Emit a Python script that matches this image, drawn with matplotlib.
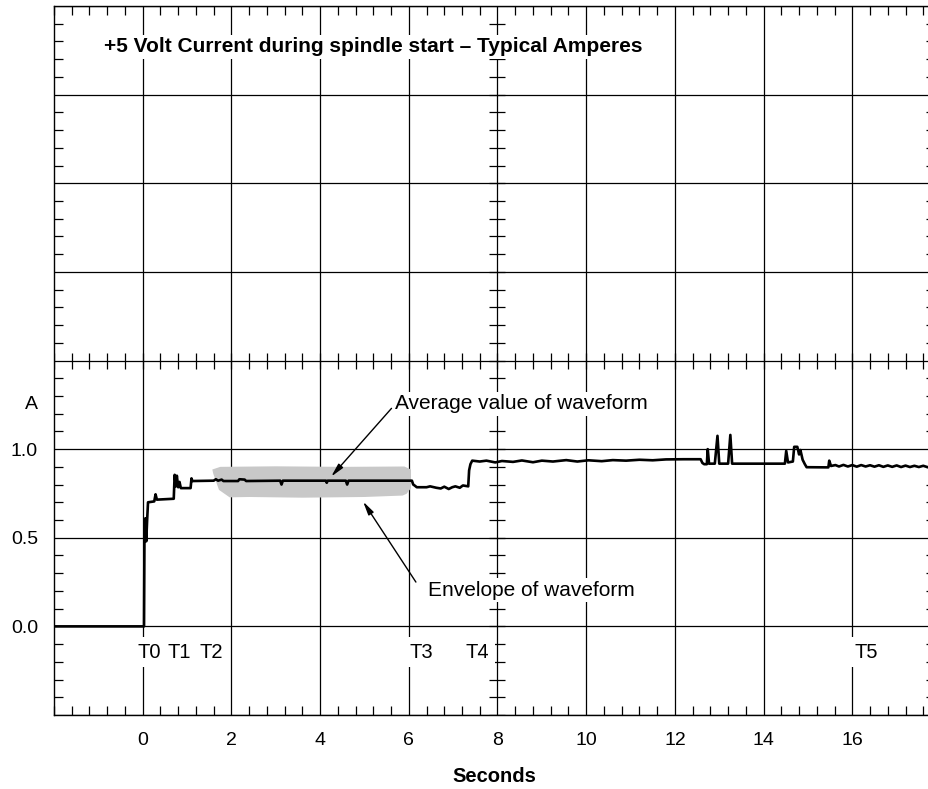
import numpy as np
import matplotlib.pyplot as plt
from matplotlib.ticker import MultipleLocator

plt.rcParams['font.family'] = ['Liberation Sans', 'DejaVu Sans']

# +5 V current trace (seconds, amperes)
wave_t = [-2.0, 0.03, 0.04, 0.06, 0.08, 0.10, 0.12, 0.26, 0.29, 0.32,
          0.70, 0.72, 0.75, 0.77, 0.80, 0.83, 0.86, 1.08, 1.10, 1.12,
          1.60, 1.65, 1.70, 1.78, 1.82, 2.15, 2.18, 2.30, 2.33, 3.10,
          3.13, 3.16, 4.13, 4.15, 4.17, 4.58, 4.61, 4.64, 6.07, 6.10,
          6.13, 6.18, 6.40, 6.48, 6.62, 6.72, 6.80, 6.90, 6.98, 7.05,
          7.15, 7.22, 7.34, 7.36, 7.39, 7.43, 7.60, 7.75, 7.95, 8.10,
          8.35, 8.55, 8.80, 9.00, 9.25, 9.55, 9.80, 10.05, 10.35, 10.60,
          10.90, 11.20, 11.50, 11.80, 12.20, 12.58, 12.62, 12.66, 12.72, 12.74,
          12.77, 12.90, 12.96, 13.00, 13.20, 13.25, 13.29, 14.48, 14.51, 14.55,
          14.66, 14.69, 14.76, 14.80, 14.83, 14.88, 14.93, 14.97, 15.46, 15.48,
          15.52, 15.62, 15.70, 15.80, 15.90, 16.00, 16.10, 16.20, 16.30, 16.40,
          16.50, 16.60, 16.70, 16.80, 16.90, 17.00, 17.10, 17.20, 17.30, 17.40,
          17.50, 17.60, 17.70, 17.86]
wave_a = [0.0, 0.0, 0.52, 0.61, 0.48, 0.60, 0.70, 0.705, 0.745, 0.715,
          0.72, 0.855, 0.79, 0.85, 0.785, 0.815, 0.78, 0.78, 0.835, 0.82,
          0.822, 0.83, 0.822, 0.828, 0.82, 0.82, 0.83, 0.828, 0.82, 0.822,
          0.80, 0.822, 0.822, 0.81, 0.822, 0.822, 0.80, 0.822, 0.822, 0.80,
          0.795, 0.785, 0.785, 0.79, 0.782, 0.778, 0.788, 0.775, 0.785, 0.79,
          0.782, 0.795, 0.79, 0.88, 0.915, 0.935, 0.930, 0.935, 0.925, 0.933,
          0.928, 0.936, 0.926, 0.935, 0.930, 0.938, 0.930, 0.937, 0.932, 0.938,
          0.935, 0.940, 0.937, 0.942, 0.943, 0.943, 0.922, 0.915, 0.915, 1.0,
          0.918, 0.918, 1.075, 0.918, 0.918, 1.08, 0.918, 0.918, 0.99, 0.925,
          0.93, 1.013, 1.013, 0.97, 0.995, 0.94, 0.915, 0.898, 0.897, 0.935,
          0.905, 0.91, 0.902, 0.911, 0.902, 0.910, 0.901, 0.910, 0.902, 0.909,
          0.901, 0.909, 0.900, 0.908, 0.900, 0.908, 0.899, 0.907, 0.899, 0.906,
          0.899, 0.906, 0.898, 0.902]

# hand-drawn grey envelope outline
env_t = [1.57, 1.75, 3.0, 4.5, 5.9, 6.05, 6.05, 5.95, 5.86, 5.0, 3.6, 2.4, 1.96, 1.72, 1.59]
env_a = [0.885, 0.900, 0.903, 0.900, 0.902, 0.885, 0.78, 0.748, 0.738, 0.730, 0.726, 0.730, 0.728, 0.77, 0.862]

x_ticks = [0, 2, 4, 6, 8, 10, 12, 14, 16]
y_ticks = [-0.5, 0.0, 0.5, 1.0, 1.5, 2.0, 2.5, 3.0, 3.5]
y_labels = ['', '0.0', '0.5', '1.0', '', '', '', '', '']

events = ['T0', 'T1', 'T2', 'T3', 'T4', 'T5']
event_t = [-0.11, 0.56, 1.28, 6.02, 7.28, 16.05]

fig = plt.figure(figsize=(9.29, 7.89), dpi=100)
ax = fig.add_axes([54 / 929, 1 - 715 / 789, (935 - 54) / 929, (715 - 6) / 789])
ax.set_xlim(-2, -2 + (935 - 54) / 44.35)
ax.set_ylim(-0.5, 3.5)

ax.set_xticks(x_ticks)
ax.set_yticks(y_ticks)
ax.set_yticklabels(y_labels)
ax.xaxis.set_minor_locator(MultipleLocator(0.4))
ax.yaxis.set_minor_locator(MultipleLocator(0.1))
ax.tick_params(which='major', length=0, labelsize=14)
ax.tick_params(axis='x', which='major', pad=12.5)
ax.tick_params(axis='y', which='major', pad=11.5)
ax.tick_params(which='minor', direction='in', length=6.5, width=0.9,
               top=True, right=True, bottom=True, left=True)
ax.grid(True, which='major', color='black', lw=0.9)
ax.set_axisbelow(True)
for side in ['left', 'bottom', 'top']:
    ax.spines[side].set_linewidth(1.0)
ax.spines['right'].set_visible(False)

# crossed ticks on the centre axes (x = 8, y = 1.5)
xm = np.arange(-2, 17.9, 0.4)
ym = np.arange(-0.5, 3.5, 0.1)
ax.plot(xm, np.full_like(xm, 1.5), ls='none', marker='|', ms=12, mew=0.9, color='black')
ax.plot(np.full_like(ym, 8), ym, ls='none', marker='_', ms=12, mew=0.9, color='black')

ax.fill(env_t, env_a, color='#c8c8c8', lw=0, zorder=2)
ax.plot(wave_t, wave_a, color='black', lw=1.9, zorder=3)

box = dict(facecolor='white', edgecolor='none', pad=2)
ax.text(-0.88, 3.27, '+5 Volt Current during spindle start \u2013 Typical Amperes',
        fontsize=15, fontweight='bold', va='center', ha='left', bbox=box, zorder=4)
for name, t in zip(events, event_t):
    ax.text(t, -0.146, name, fontsize=14.5, va='center', ha='left',
            bbox=dict(facecolor='white', edgecolor='none', pad=4), zorder=4)

arrow = dict(arrowstyle='-|>,head_length=0.8,head_width=0.18', lw=1, color='black',
             shrinkA=0, shrinkB=0)
ax.text(5.68, 1.255, 'Average value of waveform', fontsize=15, va='center', ha='left',
        bbox=box, zorder=4)
ax.annotate('', xy=(4.25, 0.845), xytext=(5.61, 1.23), arrowprops=arrow, zorder=4)
ax.text(6.43, 0.205, 'Envelope of waveform', fontsize=15, va='center', ha='left',
        bbox=box, zorder=4)
ax.annotate('', xy=(4.97, 0.704), xytext=(6.16, 0.25), arrowprops=arrow, zorder=4)

ax.annotate('A', xy=(0, 1.25), xycoords=('axes fraction', 'data'), xytext=(-16, 0),
            textcoords='offset pixels', ha='right', va='center', fontsize=14)
ax.set_xlabel('Seconds', fontsize=14.5, fontweight='bold', labelpad=13)

fig.savefig('out.png', dpi=100)
